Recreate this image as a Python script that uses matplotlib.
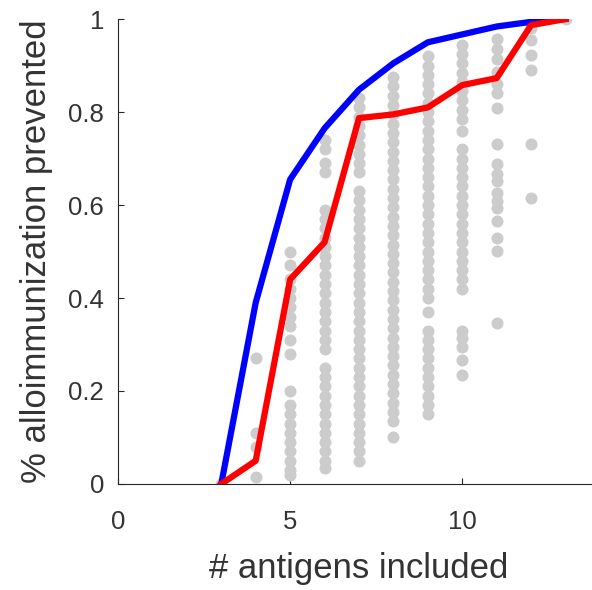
import matplotlib
matplotlib.use("Agg")
import matplotlib.pyplot as plt

# number of antigens included
n_antigens = [3, 4, 5, 6, 7, 8, 9, 10, 11, 12, 13]

# best-case and ranked selection curves
best_curve = [0.0, 0.39, 0.655, 0.765, 0.848, 0.905, 0.95, 0.967, 0.984, 0.994, 1.0]
ranked_curve = [0.0, 0.05, 0.44, 0.52, 0.787, 0.795, 0.81, 0.858, 0.873, 0.987, 1.0]

# individual antigen combinations (grey dots), one list per antigen count
combos_3 = [0.0]
combos_4 = [0.27, 0.11, 0.08, 0.015]
combos_5 = [0.50, 0.47, 0.44, 0.42, 0.40, 0.38, 0.36, 0.34, 0.31, 0.28,
            0.20, 0.17, 0.15, 0.13, 0.11, 0.09, 0.07, 0.05, 0.03, 0.02]
combos_6 = [0.74, 0.72, 0.69, 0.67, 0.59, 0.57, 0.55, 0.53, 0.51, 0.49,
            0.47, 0.45, 0.43, 0.41, 0.39, 0.37, 0.35, 0.33, 0.31, 0.29,
            0.25, 0.23, 0.21, 0.19, 0.17, 0.15, 0.13, 0.11, 0.09, 0.07,
            0.05, 0.035]
combos_7 = [0.83, 0.81, 0.79, 0.77, 0.75, 0.73, 0.71, 0.69, 0.67, 0.63,
            0.61, 0.59, 0.57, 0.55, 0.53, 0.51, 0.49, 0.47, 0.45, 0.43,
            0.41, 0.39, 0.37, 0.35, 0.33, 0.31, 0.29, 0.27, 0.25, 0.23,
            0.21, 0.19, 0.17, 0.15, 0.13, 0.11, 0.09, 0.07, 0.05]
combos_8 = [0.875, 0.855, 0.835, 0.815, 0.795, 0.775, 0.755, 0.735, 0.715,
            0.695, 0.675, 0.655, 0.635, 0.615, 0.595, 0.575, 0.555, 0.535,
            0.515, 0.495, 0.475, 0.455, 0.435, 0.415, 0.395, 0.375, 0.355,
            0.335, 0.315, 0.295, 0.275, 0.255, 0.235, 0.215, 0.195, 0.175,
            0.155, 0.135, 0.10]
combos_9 = [0.92, 0.90, 0.88, 0.86, 0.84, 0.82, 0.80, 0.78, 0.76, 0.74,
            0.72, 0.70, 0.68, 0.66, 0.64, 0.62, 0.60, 0.58, 0.56, 0.54,
            0.52, 0.50, 0.48, 0.46, 0.44, 0.42, 0.40, 0.37, 0.33, 0.31,
            0.29, 0.27, 0.25, 0.23, 0.21, 0.19, 0.17, 0.15]
combos_10 = [0.945, 0.925, 0.905, 0.885, 0.865, 0.845, 0.825, 0.805, 0.785,
             0.76, 0.72, 0.70, 0.68, 0.66, 0.64, 0.62, 0.60, 0.58, 0.56,
             0.54, 0.52, 0.50, 0.48, 0.46, 0.44, 0.42, 0.33, 0.315, 0.295,
             0.267, 0.235]
combos_11 = [0.957, 0.936, 0.915, 0.887, 0.861, 0.84, 0.808, 0.731, 0.688,
             0.667, 0.652, 0.626, 0.609, 0.594, 0.566, 0.53, 0.502, 0.346]
combos_12 = [0.98, 0.955, 0.923, 0.891, 0.731, 0.615]
combos_13 = [1.0]

all_combos = [combos_3, combos_4, combos_5, combos_6, combos_7, combos_8,
              combos_9, combos_10, combos_11, combos_12, combos_13]

plt.rcParams.update({
    "font.family": ["Liberation Sans", "DejaVu Sans"],
    "font.size": 18,
})

TEXT_GREY = "#333333"

fig = plt.figure(figsize=(5.92, 5.90), dpi=100)
# axes run a little past the right edge of the figure (xlim goes to 14)
ax = fig.add_axes([0.1993, 0.1797, 0.8142, 0.788])

for n, vals in zip(n_antigens, all_combos):
    ax.scatter([n] * len(vals), vals, s=75, color="#cccccc", lw=0, zorder=2)

ax.plot(n_antigens, best_curve, color="#0000ff", lw=4.5, zorder=3)
ax.plot(n_antigens, ranked_curve, color="#ff0000", lw=4.5, zorder=4)

ax.set_xlim(0, 14)
ax.set_ylim(0, 1)
ax.set_xticks([0, 5, 10])
ax.set_yticks([0, 0.2, 0.4, 0.6, 0.8, 1.0])
ax.set_yticklabels(["0", "0.2", "0.4", "0.6", "0.8", "1"])
ax.tick_params(direction="in", length=4, colors="#262626",
               labelcolor=TEXT_GREY, labelsize=18.5)
ax.tick_params(axis="x", pad=19)
ax.tick_params(axis="y", pad=10)
for side in ["top", "right"]:
    ax.spines[side].set_visible(False)
for side in ["left", "bottom"]:
    ax.spines[side].set_color("#262626")
    ax.spines[side].set_linewidth(0.8)

ax.set_xlabel("# antigens included", fontsize=25, color=TEXT_GREY, labelpad=13)
ax.set_ylabel("% alloimmunization prevented", fontsize=25, color=TEXT_GREY, labelpad=11)

fig.savefig("out.png", dpi=100)
